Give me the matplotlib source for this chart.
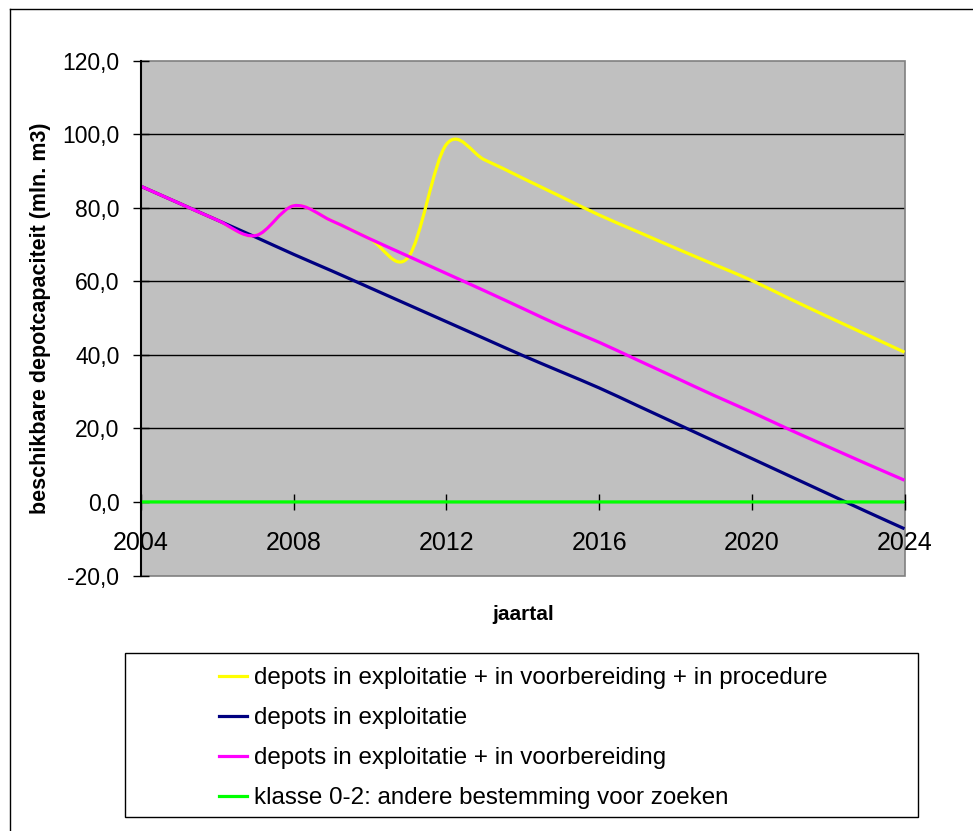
import numpy as np
import matplotlib
matplotlib.use('Agg')
import matplotlib.pyplot as plt
from matplotlib.path import Path
from matplotlib.patches import PathPatch, Rectangle
from matplotlib.lines import Line2D

plt.rcParams['font.family'] = ['Liberation Sans', 'DejaVu Sans']

# jaarlijkse waarden (mln. m3)
jaren = list(range(2004, 2025))
expl_voorb_proc = [85.8, 81.2, 76.6, 72.4, 80.5, 76.4, 71.5, 66.5, 97.2, 93.0, 88.0,
                   83.0, 78.0, 73.5, 69.0, 64.6, 60.2, 55.2, 50.3, 45.5, 40.7]
expl = [85.8, 81.2, 76.6, 72.0, 67.3, 62.8, 58.2, 53.6, 49.0, 44.4, 39.8,
        35.4, 31.0, 26.2, 21.4, 16.6, 11.8, 7.0, 2.2, -2.6, -7.3]
expl_voorb = [85.8, 81.2, 76.6, 72.4, 80.5, 76.4, 71.5, 66.8, 62.1, 57.4, 52.6,
              47.8, 43.4, 38.6, 33.8, 29.0, 24.4, 19.6, 15.0, 10.4, 5.9]
klasse_02 = [0.0] * len(jaren)

reeksen = [
    ('depots in exploitatie + in voorbereiding + in procedure', expl_voorb_proc, '#FFFF00'),
    ('depots in exploitatie', expl, '#000080'),
    ('depots in exploitatie + in voorbereiding', expl_voorb, '#FF00FF'),
    ('klasse 0-2: andere bestemming voor zoeken', klasse_02, '#00FF00'),
]

y_ticks = [-20, 0, 20, 40, 60, 80, 100, 120]
y_labels = ['-20,0', '0,0', '20,0', '40,0', '60,0', '80,0', '100,0', '120,0']
x_ticks = [2004, 2008, 2012, 2016, 2020, 2024]
x_labels = ['2004', '2008', '2012', '2016', '2020', '2024']


def gladde_lijn(x, y):
    # bezier-curve door alle punten (zoals 'vloeiende lijn' in Excel)
    pts = np.column_stack([x, y]).astype(float)
    n = len(pts)
    verts = [pts[0]]
    codes = [Path.MOVETO]
    for i in range(n - 1):
        p0 = pts[i - 1] if i > 0 else pts[i]
        p1 = pts[i]
        p2 = pts[i + 1]
        p3 = pts[i + 2] if i + 2 < n else pts[i + 1]
        verts += [p1 + (p2 - p0) / 6, p2 - (p3 - p1) / 6, p2]
        codes += [Path.CURVE4] * 3
    return Path(verts, codes)


W, H = 973, 831
fig = plt.figure(figsize=(W / 100, H / 100), dpi=100)
ax = fig.add_axes([141 / W, 1 - 575.5 / H, 763.5 / W, 515 / H])
ax.set_facecolor('#C0C0C0')

for y in [20, 40, 60, 80, 100]:
    ax.axhline(y, color='black', lw=1, zorder=1)

handles = []
for naam, waarden, kleur in reeksen:
    patch = PathPatch(gladde_lijn(jaren, waarden), fill=False, edgecolor=kleur,
                      lw=2.3, zorder=3)
    ax.add_patch(patch)
    handles.append(Line2D([], [], color=kleur, lw=2.3, label=naam))

ax.set_xlim(2004, 2024)
ax.set_ylim(-20, 120)

# x-as ligt op 0
ax.spines['bottom'].set_position(('data', 0))
ax.spines['bottom'].set_color('black')
ax.spines['bottom'].set_zorder(2)
ax.spines['left'].set_linewidth(1.5)
ax.spines['left'].set_zorder(4)
ax.spines['top'].set_visible(False)
ax.spines['right'].set_visible(False)
ax.add_patch(Rectangle((0, 0), 1, 1, transform=ax.transAxes, fill=False,
                       edgecolor='#808080', lw=1.2, zorder=1, clip_on=False))

ax.set_xticks(x_ticks)
ax.set_xticklabels(x_labels)
ax.set_yticks(y_ticks)
ax.set_yticklabels(y_labels)
ax.tick_params(axis='x', direction='inout', length=12, width=1, pad=15,
               labelsize=18, zorder=5)
ax.tick_params(axis='y', direction='inout', length=12, width=1, pad=9.5,
               labelsize=16.5)

ax.set_ylabel('beschikbare depotcapaciteit (mln. m3)', fontsize=15.5,
              fontweight='bold')
ax.yaxis.set_label_coords(-0.118, 0.5)
ax.set_xlabel('jaartal', fontsize=15, fontweight='bold')
ax.xaxis.set_label_coords(0.5, -0.058)

# kader om de legenda
fig.add_artist(Rectangle((125 / W, 1 - 817 / H), 793 / W, 164 / H,
                         transform=fig.transFigure, fill=False,
                         edgecolor='black', lw=1))
fig.legend(handles=handles, loc='upper left', bbox_to_anchor=(219 / W, 1 - 667 / H),
           frameon=False, fontsize=17.4, handlelength=1.15, handletextpad=0.3,
           labelspacing=0.75, borderpad=0, borderaxespad=0)

# buitenrand
fig.add_artist(Line2D([10 / W, 10 / W], [1 - 9 / H, 0], transform=fig.transFigure,
                      color='black', lw=1))
fig.add_artist(Line2D([10 / W, 1], [1 - 9 / H, 1 - 9 / H], transform=fig.transFigure,
                      color='black', lw=1))

fig.savefig('out.png', dpi=100)
